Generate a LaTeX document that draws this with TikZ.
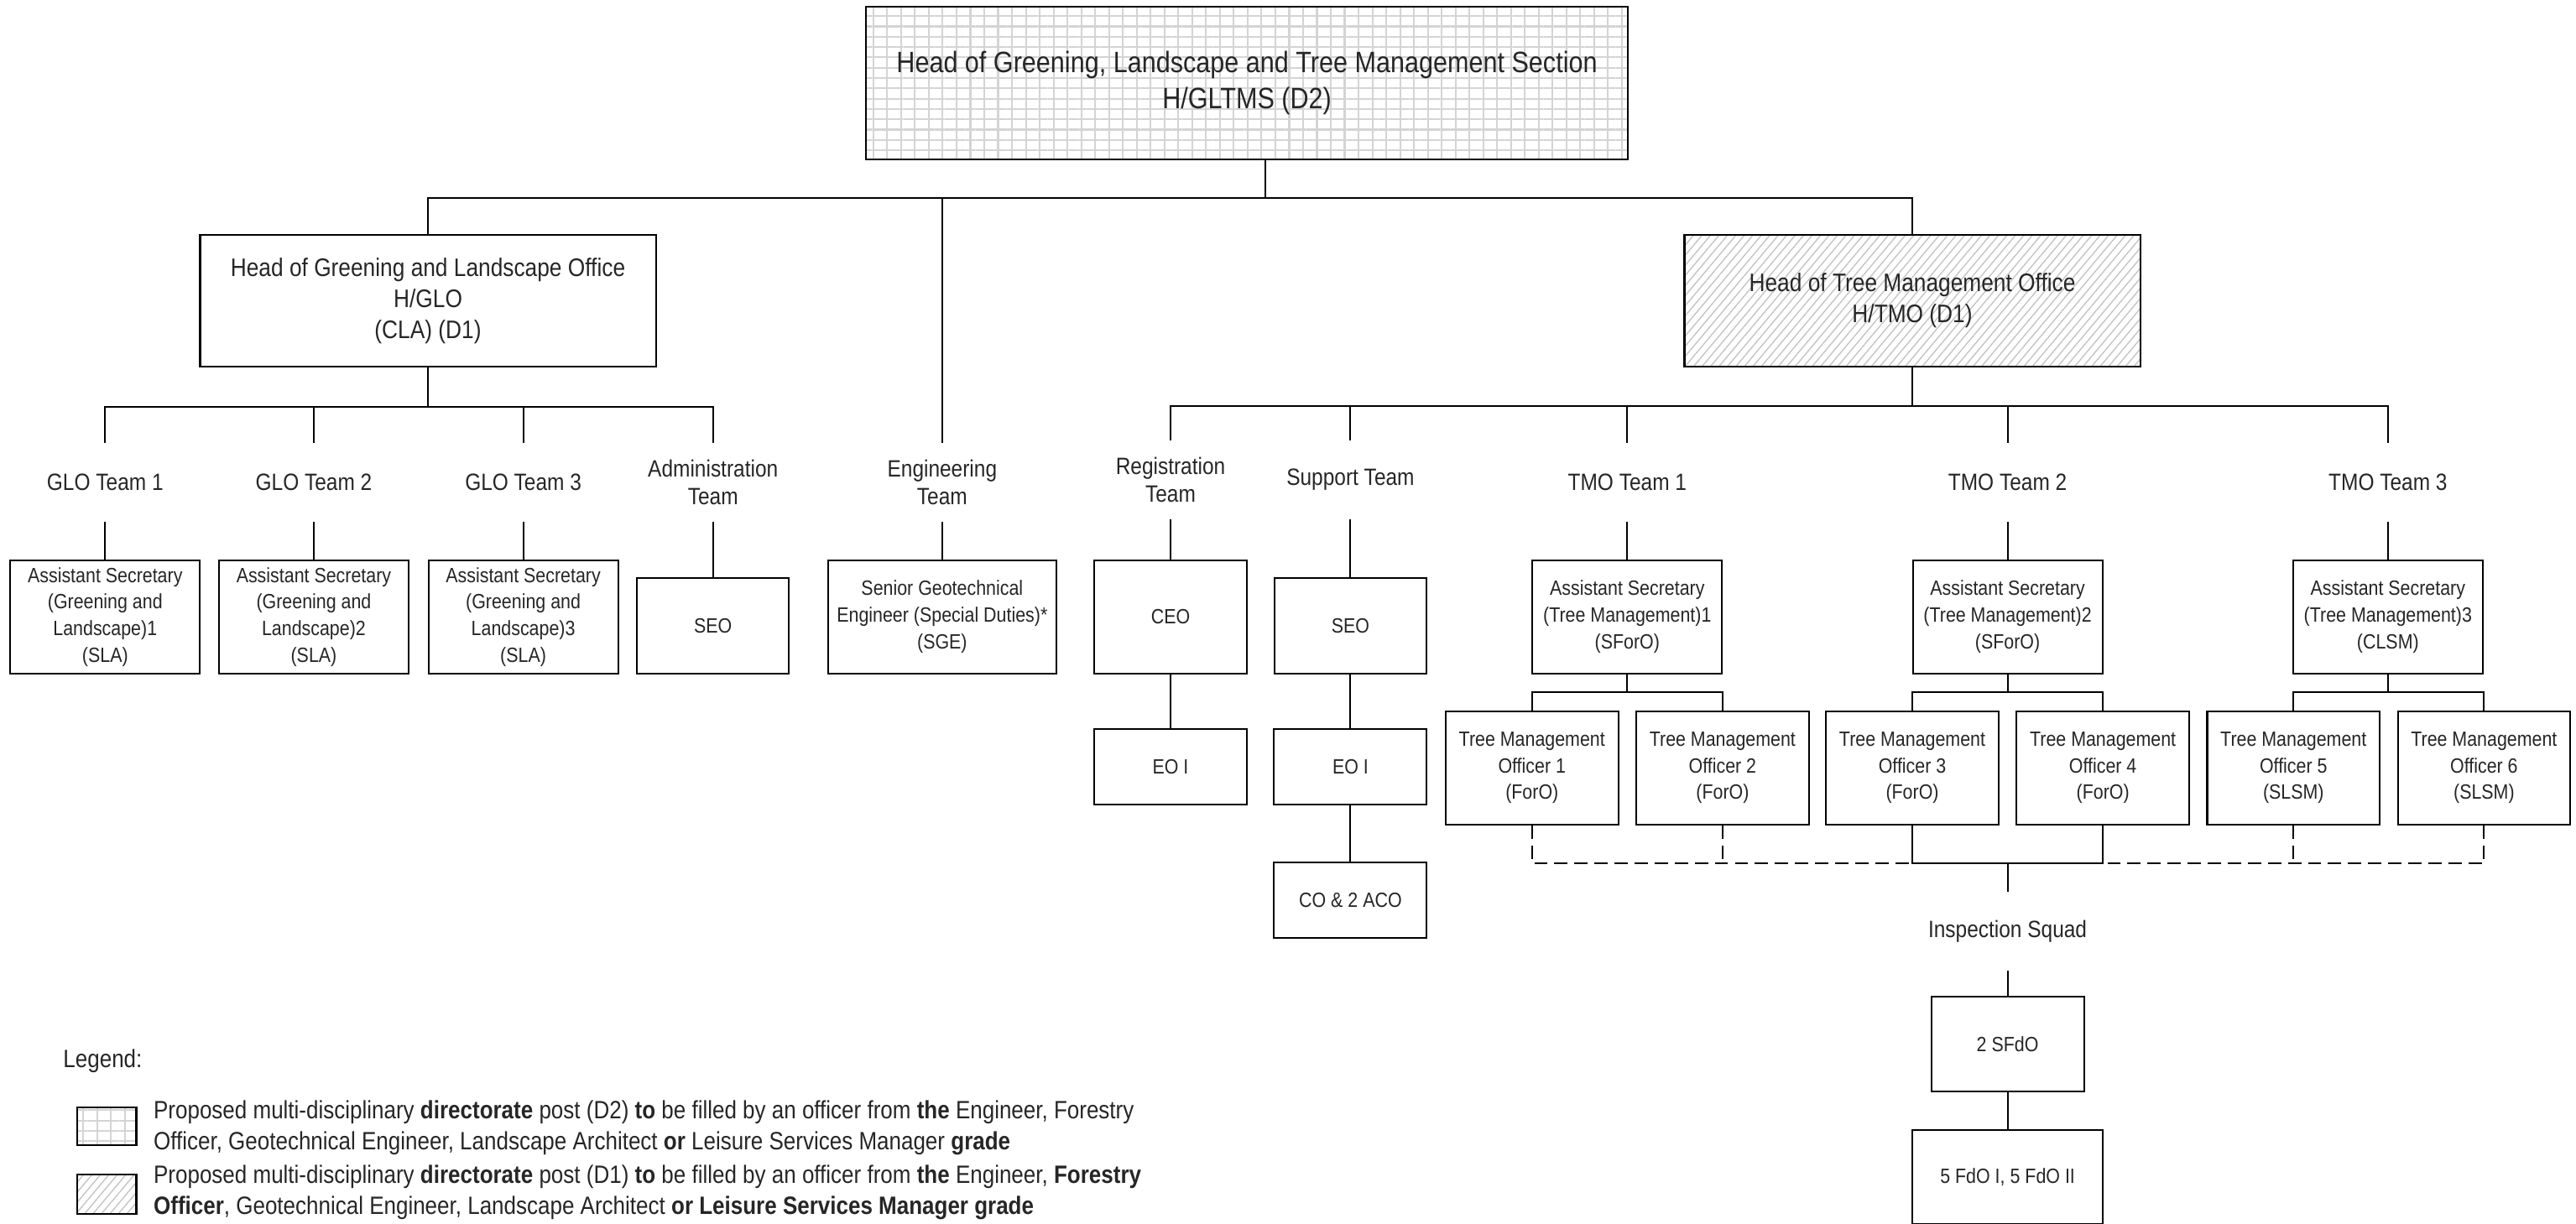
\documentclass[tikz,border=0pt]{standalone}
\usepackage{fontspec}
\setmainfont{Liberation Sans}[FakeStretch=0.87]
\usepackage{tikz}
\usetikzlibrary{patterns.meta}
\definecolor{gridgray}{HTML}{D4D4D4}
\definecolor{hatchgray}{HTML}{C4C4C4}
\definecolor{inkgray}{HTML}{262626}

\begin{document}
\begin{tikzpicture}[x=0.01958cm, y=-0.01958cm, line width=0.6pt,
  every node/.style={text=inkgray},
  post/.style={draw, line width=0.6pt, inner sep=1pt, align=center, font=\fontsize{7}{9}\selectfont},
  team/.style={inner sep=0pt, minimum height=0.92cm, align=center, font=\fontsize{8}{9.5}\selectfont},
  head/.style={post, minimum width=5.43cm, minimum height=1.566cm, font=\fontsize{8.6}{10.5}\selectfont},
  aspost/.style={post, minimum width=2.26cm, minimum height=1.35cm},
  offpost/.style={post, minimum width=2.056cm, minimum height=1.35cm},
  seopost/.style={post, minimum width=1.81cm, minimum height=1.14cm},
  eopost/.style={post, minimum width=1.82cm, minimum height=0.90cm},
  keytext/.style={anchor=west, align=left, inner sep=0pt, font=\fontsize{8.5}{10.6}\selectfont},
  gridfill/.style={preaction={pattern={Lines[angle=90,distance=4.7pt,line width=0.6pt]}, pattern color=gridgray},
    pattern={Lines[angle=0,distance=3.5pt,line width=0.6pt]}, pattern color=gridgray},
  hatchfill/.style={pattern={Lines[angle=50,distance=2.2pt,line width=0.4pt]}, pattern color=hatchgray},
  dashlink/.style={dash pattern=on 4.5pt off 2.3pt}]
  \useasboundingbox (0,0) rectangle (1568,745);

  % section head and offices
  \node[post, gridfill, minimum width=9.085cm, minimum height=1.821cm, font=\fontsize{10}{12.3}\selectfont] (top) at (759,50.5) {Head of Greening, Landscape and Tree Management Section\\H/GLTMS (D2)};
  \node[head] (gloHead) at (260.5,183) {Head of Greening and Landscape Office\\H/GLO\\(CLA) (D1)};
  \node[head, hatchfill] (tmoHead) at (1164,183) {Head of Tree Management Office\\H/TMO (D1)};

  % teams
  \node[team] (gloTeam1) at (64,293.5) {GLO Team 1};
  \node[team] (gloTeam2) at (191,293.5) {GLO Team 2};
  \node[team] (gloTeam3) at (318.5,293.5) {GLO Team 3};
  \node[team] (adminTeam) at (434,293.5) {Administration\\Team};
  \node[team] (engTeam) at (573.5,293.5) {Engineering\\Team};
  \node[team] (regTeam) at (712.5,292) {Registration\\Team};
  \node[team] (supTeam) at (822,292) {Support Team};
  \node[team] (tmoTeam1) at (990.5,293.5) {TMO Team 1};
  \node[team] (tmoTeam2) at (1222,293.5) {TMO Team 2};
  \node[team] (tmoTeam3) at (1453.5,293.5) {TMO Team 3};

  % greening and landscape posts
  \node[aspost] (asGlo1) at (64,375.5) {Assistant Secretary\\(Greening and\\Landscape)1\\(SLA)};
  \node[aspost] (asGlo2) at (191,375.5) {Assistant Secretary\\(Greening and\\Landscape)2\\(SLA)};
  \node[aspost] (asGlo3) at (318.5,375.5) {Assistant Secretary\\(Greening and\\Landscape)3\\(SLA)};
  \node[seopost] (adminSeo) at (434,381) {SEO};
  \node[aspost, minimum width=2.722cm] (sge) at (573.5,375.5) {Senior Geotechnical\\Engineer (Special Duties)*\\(SGE)};

  % registration and support
  \node[aspost, minimum width=1.82cm] (ceo) at (712.5,375.5) {CEO};
  \node[eopost] (regEo) at (712.5,467) {EO I};
  \node[seopost] (supSeo) at (822,381) {SEO};
  \node[eopost] (supEo) at (822,467) {EO I};
  \node[eopost] (coAco) at (822,548) {CO \& 2 ACO};

  % tree management posts
  \node[aspost] (asTmo1) at (990.5,375.5) {Assistant Secretary\\(Tree Management)1\\(SForO)};
  \node[aspost] (asTmo2) at (1222,375.5) {Assistant Secretary\\(Tree Management)2\\(SForO)};
  \node[aspost] (asTmo3) at (1453.5,375.5) {Assistant Secretary\\(Tree Management)3\\(CLSM)};
  \node[offpost] (off1) at (932.5,467.5) {Tree Management\\Officer 1\\(ForO)};
  \node[offpost] (off2) at (1048.5,467.5) {Tree Management\\Officer 2\\(ForO)};
  \node[offpost] (off3) at (1164,467.5) {Tree Management\\Officer 3\\(ForO)};
  \node[offpost] (off4) at (1280,467.5) {Tree Management\\Officer 4\\(ForO)};
  \node[offpost] (off5) at (1396,467.5) {Tree Management\\Officer 5\\(SLSM)};
  \node[offpost] (off6) at (1512,467.5) {Tree Management\\Officer 6\\(SLSM)};

  % inspection squad
  \node[team] (inspTeam) at (1222,567) {Inspection Squad};
  \node[post, minimum width=1.82cm, minimum height=1.126cm] (sfdo) at (1222,635.5) {2 SFdO};
  \node[post, minimum width=2.27cm, minimum height=1.116cm] (fdo) at (1222,716.5) {5 FdO I, 5 FdO II};

  % legend
  \node[keytext] (legendTitle) at (38,646) {Legend:};
  \node[post, gridfill, minimum width=0.705cm, minimum height=0.45cm] (keyGrid) at (65,685.5) {};
  \node[keytext] (keyGridText) at (93,686.5) {Proposed multi-disciplinary \textbf{directorate} post (D2) \textbf{to} be filled by an officer from \textbf{the} Engineer, Forestry\\Officer, Geotechnical Engineer, Landscape Architect \textbf{or} Leisure Services Manager \textbf{grade}};
  \node[post, hatchfill, minimum width=0.705cm, minimum height=0.47cm] (keyHatch) at (65,727) {};
  \node[keytext] (keyHatchText) at (93,726) {Proposed multi-disciplinary \textbf{directorate} post (D1) \textbf{to} be filled by an officer from \textbf{the} Engineer, \textbf{Forestry}\\\textbf{Officer}, Geotechnical Engineer, Landscape Architect \textbf{or} \textbf{Leisure Services Manager grade}};

  % section level
  \draw ([xshift=0.215cm]top.south) coordinate (topStem) -- ++(0,23) -| (gloHead.north);
  \draw (topStem) -- ++(0,23) -| (engTeam.north);
  \draw (topStem) -- ++(0,23) -| (tmoHead.north);

  % greening and landscape office
  \draw (gloHead.south) -- ++(0,24) -| (gloTeam1.north);
  \draw (gloHead.south) -- ++(0,24) -| (gloTeam2.north);
  \draw (gloHead.south) -- ++(0,24) -| (gloTeam3.north);
  \draw (gloHead.south) -- ++(0,24) -| (adminTeam.north);
  \draw (gloTeam1.south) -- (asGlo1.north);
  \draw (gloTeam2.south) -- (asGlo2.north);
  \draw (gloTeam3.south) -- (asGlo3.north);
  \draw (adminTeam.south) -- (adminSeo.north);
  \draw (engTeam.south) -- (sge.north);

  % tree management office
  \draw (tmoHead.south) -- ++(0,24) -| (regTeam.north);
  \draw (tmoHead.south) -- ++(0,24) -| (supTeam.north);
  \draw (tmoHead.south) -- ++(0,24) -| (tmoTeam1.north);
  \draw (tmoHead.south) -- ++(0,24) -| (tmoTeam2.north);
  \draw (tmoHead.south) -- ++(0,24) -| (tmoTeam3.north);
  \draw (regTeam.south) -- (ceo.north);
  \draw (ceo.south) -- (regEo.north);
  \draw (supTeam.south) -- (supSeo.north);
  \draw (supSeo.south) -- (supEo.north);
  \draw (supEo.south) -- (coAco.north);
  \draw (tmoTeam1.south) -- (asTmo1.north);
  \draw (tmoTeam2.south) -- (asTmo2.north);
  \draw (tmoTeam3.south) -- (asTmo3.north);
  \draw (asTmo1.south) -- ++(0,11) -| (off1.north);
  \draw (asTmo1.south) -- ++(0,11) -| (off2.north);
  \draw (asTmo2.south) -- ++(0,11) -| (off3.north);
  \draw (asTmo2.south) -- ++(0,11) -| (off4.north);
  \draw (asTmo3.south) -- ++(0,11) -| (off5.north);
  \draw (asTmo3.south) -- ++(0,11) -| (off6.north);

  % inspection squad links
  \path (off3.south) ++(0,23) coordinate (sqLeft);
  \path (off4.south) ++(0,23) coordinate (sqRight);
  \draw[dashlink] (off1.south) |- (sqLeft);
  \draw[dashlink] (off2.south) -- (off2.south |- sqLeft);
  \draw[dashlink] (off6.south) |- (sqRight);
  \draw[dashlink] (off5.south) -- (off5.south |- sqRight);
  \draw (off3.south) -- (sqLeft) -- (sqRight) -- (off4.south);
  \draw (inspTeam.north |- sqLeft) -- (inspTeam.north);
  \draw (inspTeam.south) -- (sfdo.north);
  \draw (sfdo.south) -- (fdo.north);
\end{tikzpicture}
\end{document}
